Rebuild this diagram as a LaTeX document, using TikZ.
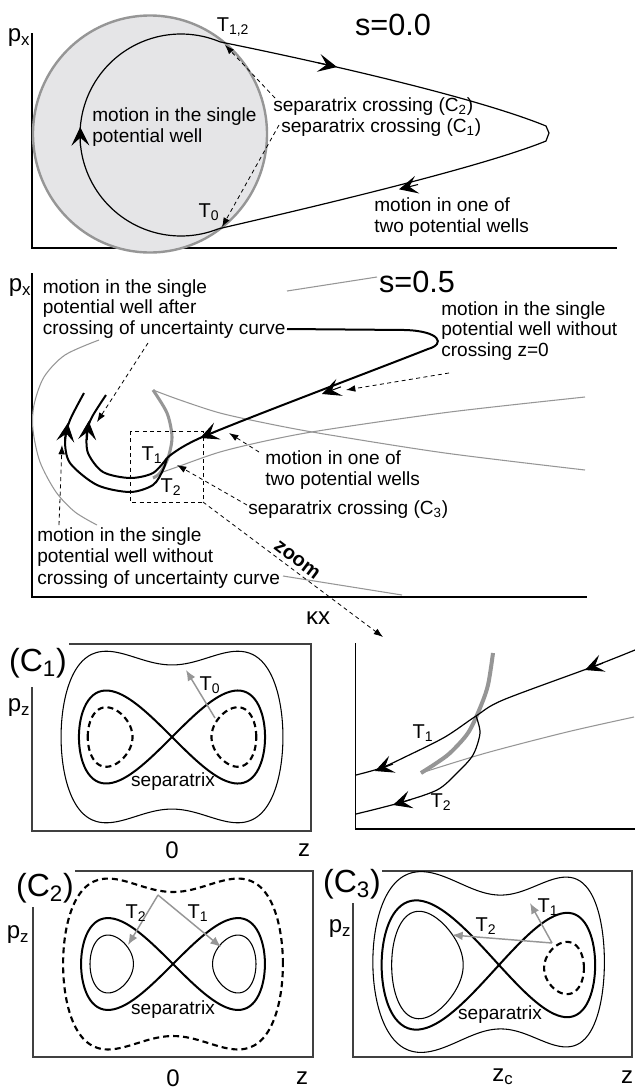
\documentclass[tikz,border=0pt]{standalone}
\usepackage{fontspec}
\setmainfont{Liberation Sans}
\usetikzlibrary{arrows.meta}
\definecolor{ugray}{RGB}{150,150,150}
\definecolor{cfill}{RGB}{229,229,231}
\tikzset{
  lab/.style={inner sep=0pt, align=left, font=\fontsize{14.3}{15.6}\selectfont},
  tl/.style={inner sep=0pt, font=\fontsize{15}{17}\selectfont},
  bigl/.style={inner sep=0pt, font=\fontsize{23}{26}\selectfont},
  cl/.style={inner sep=0pt, font=\fontsize{24}{26}\selectfont},
  axl/.style={inner sep=0pt, font=\fontsize{18}{20}\selectfont},
  axisline/.style={line width=0.8pt},
  boxline/.style={line width=0.8pt, draw=black!75},
  ann/.style={dash pattern=on 3pt off 2.5pt, line width=0.6pt, -{Latex[length=7pt,width=5pt]}},
  garrow/.style={draw=ugray, line width=1.1pt, -{Latex[length=8pt,width=6.5pt]}},
  thinorb/.style={line width=0.8pt},
  sepline/.style={line width=1.5pt},
  dorb/.style={line width=1.6pt, dash pattern=on 4.5pt off 3pt},
  barb/.style={-{Stealth[length=14pt,width=13.5pt,inset=6pt]}, line width=0.8pt},
  gthin/.style={draw=ugray, line width=0.8pt},
}
\begin{document}
\begin{tikzpicture}[x=0.75pt,y=-0.75pt]
\useasboundingbox (0,0) rectangle (635,1090);

% ================= top panel s=0.0 =================
\draw[axisline] (32,33) -- (32,248) -- (617,248);
\node[axl] (px1) at (19,38) {p\textsubscript{x}};
\draw[draw=ugray, fill=cfill, line width=1.8pt] (150,134) ellipse [x radius=117, y radius=118.5];
\coordinate (T0p) at (218.5,228.8);
\coordinate (T12p) at (220.1,41.9);
\draw[line width=0.9pt] plot[domain=68.2:292.8, samples=90, smooth, variable=\t] ({181+101*cos(\t)},{135+101*sin(\t)});
\draw[line width=0.9pt] (T12p) .. controls (300,58) and (470,95) .. (546,126) -- (549,133) -- (546,141) .. controls (480,168) and (300,210) .. (T0p);
\draw[barb] (318,62.8) -- (337,67);
\draw[barb] (418,184.5) -- (399,189.3);
\draw[barb] (80.4,146) -- (80.2,127);
\node[bigl] (s0) at (393,25) {s=0.0};
\node[tl] (t12) at (233,27) {T\textsubscript{1,2}};
\node[tl] (t0) at (209,212) {T\textsubscript{0}};
\node[lab, anchor=west] (mw1) at (92,127) {motion in the single\\potential well};
\node[lab, anchor=west] (sc2) at (273,107) {separatrix crossing (C\textsubscript{2})};
\node[lab, anchor=west] (sc1) at (281,128) {separatrix crossing (C\textsubscript{1})};
\node[lab, anchor=west] (mo1) at (374,217) {motion in one of\\two potential wells};
\coordinate (a1s) at (275,98); \coordinate (a1e) at (225,45);
\coordinate (a2s) at (279,125); \coordinate (a2e) at (222,227);
\draw[ann] (a1s) -- (a1e);
\draw[ann] (a2s) -- (a2e);

% ================= middle panel s=0.5 =================
\draw[axisline] (32,273) -- (32,597) -- (587,597);
\node[axl] (px2) at (20,288) {p\textsubscript{x}};
\node[bigl] (s5) at (417,282) {s=0.5};
\draw[gthin] (287,291) -- (377,277);
\draw[gthin] plot[smooth] coordinates {(99,340) (65,355) (44,377) (34,405) (33,430) (40,462) (56,492) (75,512) (97,525)};
\draw[gthin] plot[smooth] coordinates {(153,390) (180,400) (220,413) (270,424) (324,434) (445,453) (585,470)};
\draw[gthin] plot[smooth] coordinates {(160,473) (177,467) (220,452) (270,440) (324,430) (450,412) (585,397)};
\draw[gthin] (283,576) -- (402,595);
\draw[draw=ugray, line width=2.3pt] plot[smooth] coordinates {(153,390) (167,413) (172,437) (168,458) (160,473) (153,478)};
\coordinate (J) at (167,458);
\draw[line width=1.5pt] (287,329) -- (405,330) .. controls (440,331) and (446,344) .. (428,349) .. controls (380,368) and (255,415) .. (207,435) .. controls (190,442) and (176,450) .. (J);
\draw[line width=1.5pt] plot[smooth] coordinates {(167,458) (153,473) (130,478) (103,472) (88,453) (87,432) (92,417) (106,395)};
\draw[line width=1.5pt] plot[smooth] coordinates {(167,458) (163,470) (153,485) (130,492) (97,485) (70,463) (65,440) (70,420) (84,393)};
\draw[barb] (341,386.8) -- (322,394);
\draw[barb] (218,430.8) -- (200,438);
\draw[barb] (87.2,440) -- (88.7,421);
\draw[barb] (65.3,442) -- (67.8,423);
\draw[dash pattern=on 3pt off 2.5pt, line width=0.6pt] (130,431) rectangle (203,502);
\node[tl] (t1m) at (152,455) {T\textsubscript{1}};
\node[tl] (t2m) at (171,487) {T\textsubscript{2}};
\node[lab, anchor=west] (l1) at (42.5,309) {motion in the single\\potential well after\\crossing of uncertainty curve};
\node[lab, anchor=west] (l2) at (441,331) {motion in the single\\potential well without\\crossing z=0};
\node[lab, anchor=west] (l3) at (265,470) {motion in one of\\two potential wells};
\node[lab, anchor=west] (l4) at (248,510) {separatrix crossing (C\textsubscript{3})};
\node[lab, anchor=west] (l5a) at (37,537) {motion in the single};
\node[lab, anchor=west] (l5b) at (37,558) {potential well without};
\node[lab, anchor=west] (l5c) at (37,580) {crossing of uncertainty curve};
\node[inner sep=0pt, font=\bfseries\fontsize{15}{17}\selectfont, rotate=-37] (zm) at (297,560) {zoom};
\node[axl] (kx) at (318,618) {κx};
\draw[ann] (449,373) -- (346,390);
\draw[ann] (148,343) -- (97,422);
\draw[ann] (59,525) -- (62,445);
\draw[ann] (259,452) -- (229,433);
\draw[ann] (247,505) -- (177,465);
\draw[ann] (203,502) -- (383,637);

% ================= zoom panel =================
\draw[axisline] (355.5,643) -- (355.5,829) -- (635,829);
\draw[draw=ugray, line width=3pt] plot[smooth] coordinates {(493,653) (488,685) (480,708) (468,733) (450,753) (435,764) (421,773)};
\draw[gthin] plot[smooth] coordinates {(421,773) (486,753) (567,732) (634,717)};
\draw[line width=0.9pt] plot[smooth] coordinates {(635,650) (592,667) (503,700) (476,716) (445,737) (405,757) (381,768) (356,775)};
\draw[line width=0.9pt] plot[smooth] coordinates {(476,716) (480,733) (473,755) (457,773) (437,790) (399,803) (356,814)};
\draw[barb] (603,663) -- (585,670);
\draw[barb] (393,764) -- (375,771);
\draw[barb] (411,799.5) -- (393,805);
\node[tl] (t1z) at (423,733) {T\textsubscript{1}};
\node[tl] (t2z) at (441,802) {T\textsubscript{2}};

% ================= C1 =================
\draw[boxline] (69,644) -- (311,644) -- (311,831) -- (32,831) -- (32,687);
\node[cl] (c1) at (38,663) {(C\textsubscript{1})};
\node[axl] (pz1) at (19,708) {p\textsubscript{z}};
\draw[thinorb] plot[domain=0:360, samples=120, smooth, variable=\t] ({172+65.8*1.686*cos(\t)},{737-65.8*1.686*sin(\t)*sqrt((2.844*cos(\t)*cos(\t)+0.844)/2)});
\draw[sepline] plot[domain=0:360, samples=120, smooth, variable=\t] ({172+65.8*1.4142*cos(\t)},{737-65.8*1.4142*sin(\t)*cos(\t)});
\draw[dorb] plot[domain=0:360, samples=60, smooth, variable=\t] ({172-65.8*sqrt(1+0.64*cos(\t))},{737-65.8*0.4525*sin(\t)});
\draw[dorb] plot[domain=0:360, samples=60, smooth, variable=\t] ({172+65.8*sqrt(1+0.64*cos(\t))},{737-65.8*0.4525*sin(\t)});
\draw[garrow] (215,718) -- (186,670);
\node[tl] (t0c) at (210,685) {T\textsubscript{0}};
\node[lab] (sp1) at (173,782) {separatrix};
\node[axl] (zero1) at (172,850) {0};
\node[axl] (z1) at (304,850) {z};

% ================= C2 =================
\draw[boxline] (75,871) -- (313,871) -- (313,1057) -- (33,1057) -- (33,907);
\node[cl] (c2) at (45,888) {(C\textsubscript{2})};
\node[axl] (pz2) at (18,935) {p\textsubscript{z}};
\draw[dorb] plot[domain=0:360, samples=120, smooth, variable=\t] ({173+65*1.691*cos(\t)},{964-65*1.691*sin(\t)*sqrt((2.859*cos(\t)*cos(\t)+0.859)/2)});
\draw[sepline] plot[domain=0:360, samples=120, smooth, variable=\t] ({173+65*1.4142*cos(\t)},{964-65*1.4142*sin(\t)*cos(\t)});
\draw[thinorb] plot[domain=0:360, samples=60, smooth, variable=\t] ({173-65*sqrt(1+0.63*cos(\t))},{964-65*0.4455*sin(\t)});
\draw[thinorb] plot[domain=0:360, samples=60, smooth, variable=\t] ({173+65*sqrt(1+0.63*cos(\t))},{964-65*0.4455*sin(\t)});
\coordinate (g2) at (158,895);
\draw[garrow] (g2) -- (128,945);
\draw[garrow] (g2) -- (221,947);
\node[tl] (t2c) at (136,913) {T\textsubscript{2}};
\node[tl] (t1c) at (198,913) {T\textsubscript{1}};
\node[lab] (sp2) at (173,1010) {separatrix};
\node[axl] (zero2) at (173,1078) {0};
\node[axl] (z2) at (302,1078) {z};

% ================= C3 =================
\draw[boxline] (382,871) -- (632,871) -- (632,1057) -- (353,1057) -- (353,903);
\node[cl] (c3) at (352,884) {(C\textsubscript{3})};
\node[axl] (pz3) at (340,929) {p\textsubscript{z}};
\draw[thinorb] plot[domain=0:360, samples=140, smooth, variable=\t] ({499+(72.5-6.5*cos(\t))*1.597*cos(\t)},{962-(80-4*cos(\t))*1.597*sin(\t)*sqrt((2.549*cos(\t)*cos(\t)+0.549)/2)});
\draw[sepline] plot[domain=0:360, samples=140, smooth, variable=\t] ({499+(75.5-7.5*cos(\t))*1.4142*cos(\t)},{965-(82.5-12.5*cos(\t))*1.4142*sin(\t)*cos(\t)});
\draw[thinorb] plot[domain=0:360, samples=70, smooth, variable=\t] ({499-80*sqrt(1+0.8*cos(\t))},{965-95*0.5657*sin(\t)});
\draw[dorb] plot[domain=0:360, samples=60, smooth, variable=\t] ({499+68*sqrt(1+0.56*cos(\t))},{968-66*0.396*sin(\t)});
\coordinate (g3) at (552,943);
\draw[garrow] (g3) -- (452,935);
\draw[garrow] (g3) -- (530,903);
\node[tl] (t2d) at (486,926) {T\textsubscript{2}};
\node[tl] (t1d) at (548,907) {T\textsubscript{1}};
\node[lab] (sp3) at (500,1015) {separatrix};
\node[axl] (zc) at (503,1077) {z\textsubscript{c}};
\node[axl] (z3) at (627,1077) {z};
\end{tikzpicture}
\end{document}
